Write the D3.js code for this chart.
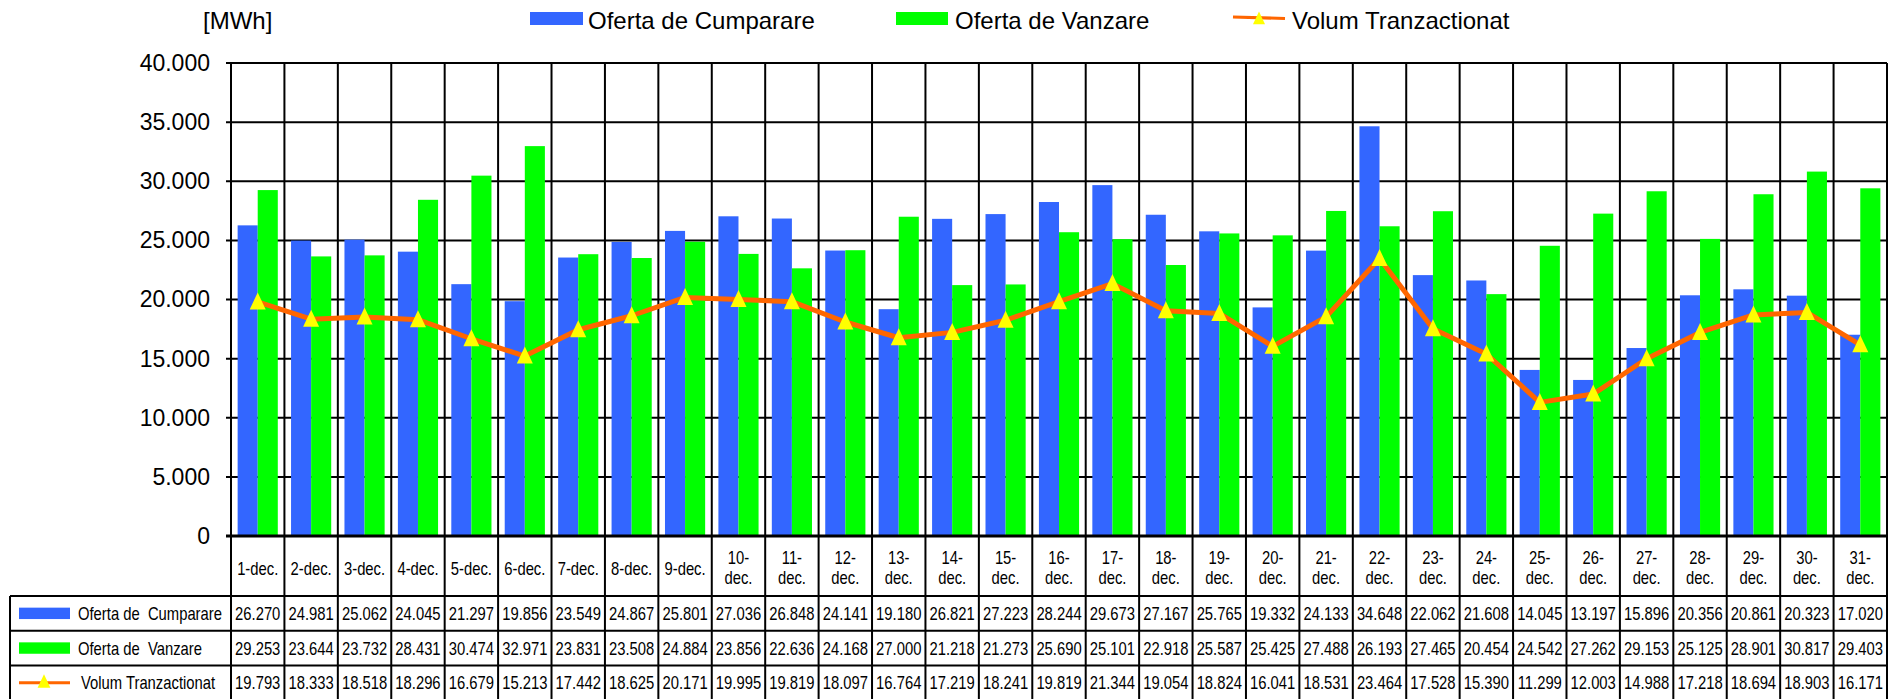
<!DOCTYPE html>
<html>
<head>
<meta charset="utf-8">
<script src="https://cdn.jsdelivr.net/npm/d3@7/dist/d3.min.js"></script>
<style>
  body { margin: 0; background: #fff; }
  svg { display: block; }
  text { font-family: "Liberation Sans", Arial, sans-serif; fill: #000; }
</style>
</head>
<body>
<svg id="chart" width="1901" height="699"></svg>
<script>
// Data — December, quantities in MWh
const days = ['1-dec.', '2-dec.', '3-dec.', '4-dec.', '5-dec.', '6-dec.', '7-dec.', '8-dec.', '9-dec.',
  '10-dec.', '11-dec.', '12-dec.', '13-dec.', '14-dec.', '15-dec.', '16-dec.', '17-dec.', '18-dec.',
  '19-dec.', '20-dec.', '21-dec.', '22-dec.', '23-dec.', '24-dec.', '25-dec.', '26-dec.', '27-dec.',
  '28-dec.', '29-dec.', '30-dec.', '31-dec.'];

const buyOffer = [26270, 24981, 25062, 24045, 21297, 19856, 23549, 24867, 25801, 27036, 26848,
  24141, 19180, 26821, 27223, 28244, 29673, 27167, 25765, 19332, 24133, 34648, 22062, 21608,
  14045, 13197, 15896, 20356, 20861, 20323, 17020];

const sellOffer = [29253, 23644, 23732, 28431, 30474, 32971, 23831, 23508, 24884, 23856, 22636,
  24168, 27000, 21218, 21273, 25690, 25101, 22918, 25587, 25425, 27488, 26193, 27465, 20454,
  24542, 27262, 29153, 25125, 28901, 30817, 29403];

const tradedVolume = [19793, 18333, 18518, 18296, 16679, 15213, 17442, 18625, 20171, 19995, 19819,
  18097, 16764, 17219, 18241, 19819, 21344, 19054, 18824, 16041, 18531, 23464, 17528, 15390,
  11299, 12003, 14988, 17218, 18694, 18903, 16171];

const seriesNames = ['Oferta de Cumparare', 'Oferta de Vanzare', 'Volum Tranzactionat'];
const tableNames = ['Oferta de\u00a0 Cumparare', 'Oferta de\u00a0 Vanzare', 'Volum Tranzactionat'];
const yTicks = [0, 5000, 10000, 15000, 20000, 25000, 30000, 35000, 40000];
const unitLabel = '[MWh]';

// Layout
const plotL = 231, plotR = 1887, plotT = 63, plotB = 536;
const headB = 596, rowH = 34.7, tableL = 10, tableB = 699;
const BLUE = '#3366FF', GREEN = '#00FF00', ORANGE = '#FF6600', YELLOW = '#FFFF00';
const SQUEEZE = 0.8;   // table text is horizontally condensed in the original

const ro = d3.formatLocale({ decimal: ',', thousands: '.', grouping: [3], currency: ['', ''] });
const fmt = ro.format(',');

const svg = d3.select('#chart');

const x = d3.scaleBand().domain(days).range([plotL, plotR]);
const xs = d3.scaleBand().domain([0, 1]).range([0, x.bandwidth()]).paddingOuter(0.33);
const y = d3.scaleLinear().domain([0, 40000]).range([plotB, plotT]);
const cx = d => x(d) + x.bandwidth() / 2;

const triPath = 'M0,-9.5L8,7.5L-8,7.5Z';

// Horizontal grid lines (behind bars)
svg.append('g').selectAll('line').data(yTicks).join('line')
  .attr('x1', plotL - 5).attr('x2', plotR)
  .attr('y1', d => y(d)).attr('y2', d => y(d))
  .attr('stroke', '#000').attr('stroke-width', 2);

// Y axis labels
const yAxis = svg.append('g').attr('transform', `translate(${plotL},0)`)
  .call(d3.axisLeft(y).tickValues(yTicks).tickFormat(fmt).tickSize(5).tickPadding(16));
yAxis.select('.domain').remove();
yAxis.selectAll('line').remove();
yAxis.selectAll('text').attr('font-size', 23).attr('font-family', '"Liberation Sans", Arial, sans-serif');

// Bars
const bars = svg.append('g');
[[buyOffer, BLUE], [sellOffer, GREEN]].forEach(([vals, color], s) => {
  bars.append('g').selectAll('rect').data(vals).join('rect')
    .attr('x', (d, i) => x(days[i]) + xs(s))
    .attr('width', xs.bandwidth())
    .attr('y', d => y(d))
    .attr('height', d => y(0) - y(d))
    .attr('fill', color);
});

// Category boundaries through plot, header and table
const bounds = days.map(d => x(d)).concat([plotR]);
svg.append('g').selectAll('line').data(bounds).join('line')
  .attr('x1', d => d).attr('x2', d => d)
  .attr('y1', plotT).attr('y2', tableB)
  .attr('stroke', '#000').attr('stroke-width', 2);

// X axis line
svg.append('line')
  .attr('x1', plotL - 5).attr('x2', plotR).attr('y1', y(0)).attr('y2', y(0))
  .attr('stroke', '#000').attr('stroke-width', 3);

// Traded volume line
const line = d3.line().x((d, i) => cx(days[i])).y(d => y(d));
svg.append('path').datum(tradedVolume)
  .attr('d', line).attr('fill', 'none')
  .attr('stroke', ORANGE).attr('stroke-width', 5).attr('stroke-linejoin', 'round');

svg.append('g').selectAll('path').data(tradedVolume).join('path')
  .attr('transform', (d, i) => `translate(${cx(days[i])},${y(d)})`)
  .attr('d', triPath).attr('fill', YELLOW);

// Condensed text helper
function squeezed(g, tx, ty, str, anchor) {
  return g.append('text')
    .attr('transform', `translate(${tx},${ty}) scale(${SQUEEZE},1)`)
    .attr('text-anchor', anchor || 'middle')
    .attr('font-size', 18.5)
    .text(str);
}

// Category labels row
const head = svg.append('g');
days.forEach(d => {
  if (d.length <= 6) {
    squeezed(head, cx(d), 575, d);
  } else {
    const parts = d.split('-');
    squeezed(head, cx(d), 564, parts[0] + '-');
    squeezed(head, cx(d), 584, parts[1]);
  }
});

// Data table
const table = svg.append('g');
const rows = [buyOffer, sellOffer, tradedVolume];
const rowLines = d3.range(rows.length + 1).map(i => headB + i * rowH);
table.selectAll('line.h').data(rowLines).join('line')
  .attr('class', 'h')
  .attr('x1', tableL).attr('x2', plotR)
  .attr('y1', d => d).attr('y2', d => d)
  .attr('stroke', '#000').attr('stroke-width', 2);
table.append('line')
  .attr('x1', tableL).attr('x2', tableL).attr('y1', headB).attr('y2', tableB)
  .attr('stroke', '#000').attr('stroke-width', 2);

rows.forEach((vals, r) => {
  const mid = headB + r * rowH + rowH / 2;
  // key
  if (r < 2) {
    table.append('rect').attr('x', 19).attr('y', mid - 5.7).attr('width', 51).attr('height', 11.4)
      .attr('fill', r === 0 ? BLUE : GREEN);
  } else {
    table.append('line').attr('x1', 19).attr('x2', 70).attr('y1', mid).attr('y2', mid)
      .attr('stroke', ORANGE).attr('stroke-width', 3);
    table.append('path').attr('transform', `translate(44,${mid - 1}) scale(0.8)`)
      .attr('d', triPath).attr('fill', YELLOW);
  }
  squeezed(table, r < 2 ? 78 : 81, mid + 6.5, tableNames[r], 'start');
  vals.forEach((v, i) => squeezed(table, cx(days[i]), mid + 6.5, fmt(v)));
});

// Top legend and unit
svg.append('text').attr('x', 203).attr('y', 29).attr('font-size', 24).text(unitLabel);

const legend = svg.append('g');
legend.append('rect').attr('x', 530).attr('y', 12).attr('width', 53).attr('height', 13).attr('fill', BLUE);
legend.append('text').attr('x', 588).attr('y', 29).attr('font-size', 24).text(seriesNames[0]);
legend.append('rect').attr('x', 896).attr('y', 12).attr('width', 52).attr('height', 13).attr('fill', GREEN);
legend.append('text').attr('x', 955).attr('y', 29).attr('font-size', 24).text(seriesNames[1]);
legend.append('line').attr('x1', 1233).attr('x2', 1285).attr('y1', 17).attr('y2', 18.5)
  .attr('stroke', ORANGE).attr('stroke-width', 3);
legend.append('path').attr('transform', 'translate(1259,18.5) scale(0.75)')
  .attr('d', triPath).attr('fill', YELLOW);
legend.append('text').attr('x', 1292).attr('y', 29).attr('font-size', 24).text(seriesNames[2]);
</script>
</body>
</html>
